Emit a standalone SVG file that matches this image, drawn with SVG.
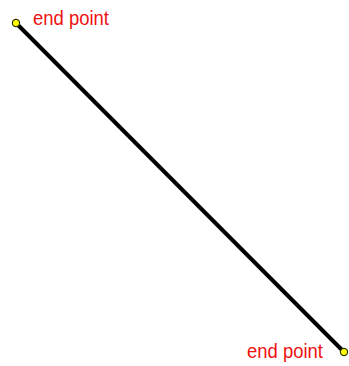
<svg xmlns="http://www.w3.org/2000/svg" width="349" height="366" viewBox="0 0 349 366">
<style>
.lbl{font-family:"Liberation Sans",Arial,sans-serif;font-size:21px;fill:#ee1111}
.pt{fill:#ffff00;stroke:#333300;stroke-width:1.2}
</style>
<rect width="349" height="366" fill="#ffffff"/>
<g id="connectors">
<line x1="16" y1="23" x2="344" y2="352" stroke="#000" stroke-width="4"/>
</g>
<g id="p1"><circle class="pt" cx="16" cy="23" r="3.6"/><text class="lbl" x="33" y="25" textLength="76" lengthAdjust="spacingAndGlyphs">end point</text></g>
<g id="p2"><circle class="pt" cx="344" cy="352" r="3.6"/><text class="lbl" x="247" y="358" textLength="76" lengthAdjust="spacingAndGlyphs">end point</text></g>
</svg>
